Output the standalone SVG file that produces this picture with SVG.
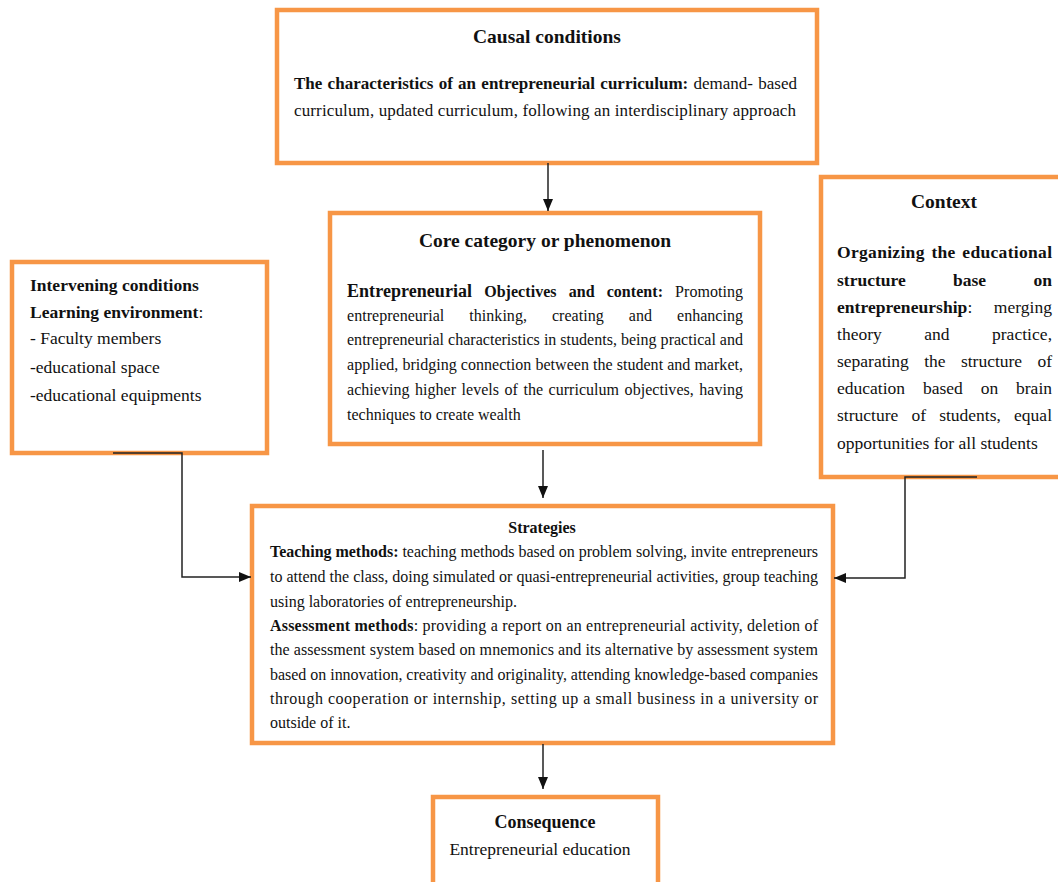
<svg xmlns="http://www.w3.org/2000/svg" width="1058" height="882" viewBox="0 0 1058 882">
<defs>
<style>
.box{fill:#fff;stroke:#F79646;stroke-width:4.5}
text{font-family:"Liberation Serif","Times New Roman",serif;fill:#111}
.t{font-weight:bold;font-size:19.5px;text-anchor:middle}
.b{font-weight:bold}
.s16{font-size:16px}
.s17{font-size:17px}
.s175{font-size:17.5px}
.con{fill:none;stroke:#222;stroke-width:1.5}
</style>
<marker id="ah" markerUnits="userSpaceOnUse" markerWidth="12" markerHeight="12" viewBox="0 0 12 10" refX="12" refY="5" orient="auto">
<path d="M0,0 L12,5 L0,10 z" fill="#111"/>
</marker>
</defs>
<rect width="1058" height="882" fill="#fff"/>

<g id="causal">
<rect class="box" x="277" y="10" width="540" height="153"/>
<text class="t" x="547" y="43">Causal conditions</text>
<text class="s17" x="294" y="89" textLength="503" lengthAdjust="spacing" word-spacing="1"><tspan class="b">The characteristics of an entrepreneurial curriculum:</tspan> demand- based</text>
<text class="s17" x="294" y="116" textLength="502" lengthAdjust="spacing">curriculum, updated curriculum, following an interdisciplinary approach</text>
</g>

<g id="core">
<rect class="box" x="330" y="213" width="430" height="231"/>
<text class="t" x="545" y="247">Core category or phenomenon</text>
<text class="s16" x="347" y="297" textLength="396" lengthAdjust="spacing" word-spacing="8"><tspan class="b" style="font-size:18px">Entrepreneurial</tspan> <tspan class="b">Objectives and content:</tspan> Promoting</text>
<text class="s16" x="347" y="321" textLength="396" lengthAdjust="spacing" word-spacing="21">entrepreneurial thinking, creating and enhancing</text>
<text class="s16" x="347" y="345" textLength="396" lengthAdjust="spacing">entrepreneurial characteristics in students, being practical and</text>
<text class="s16" x="347" y="370" textLength="396" lengthAdjust="spacing">applied, bridging connection between the student and market,</text>
<text class="s16" x="347" y="395" textLength="396" lengthAdjust="spacing" word-spacing="1.5">achieving higher levels of the curriculum objectives, having</text>
<text class="s16" x="347" y="420">techniques to create wealth</text>
</g>

<g id="context">
<rect class="box" x="821" y="177" width="250" height="300"/>
<text class="t" x="944" y="208">Context</text>
<text class="s175 b" x="837" y="258" textLength="215" lengthAdjust="spacing" word-spacing="2">Organizing the educational</text>
<text class="s175 b" x="837" y="286" textLength="215" lengthAdjust="spacing" word-spacing="43">structure base on</text>
<text class="s175" x="837" y="313" textLength="215" lengthAdjust="spacing" word-spacing="17"><tspan class="b">entrepreneurship</tspan>: merging</text>
<text class="s175" x="837" y="340" textLength="215" lengthAdjust="spacing" word-spacing="38">theory and practice,</text>
<text class="s175" x="837" y="367" textLength="215" lengthAdjust="spacing" word-spacing="11">separating the structure of</text>
<text class="s175" x="837" y="394" textLength="215" lengthAdjust="spacing" word-spacing="13.5">education based on brain</text>
<text class="s175" x="837" y="421" textLength="215" lengthAdjust="spacing" word-spacing="8.8">structure of students, equal</text>
<text class="s175" x="837" y="449">opportunities for all students</text>
</g>

<g id="intervening">
<rect class="box" x="12" y="262" width="255" height="191"/>
<text class="s175 b" x="30" y="291">Intervening conditions</text>
<text class="s175" x="30" y="318"><tspan class="b">Learning environment</tspan>:</text>
<text class="s175" x="30" y="344">- Faculty members</text>
<text class="s175" x="30" y="373">-educational space</text>
<text class="s175" x="30" y="401">-educational equipments</text>
</g>

<g id="strategies">
<rect class="box" x="252" y="506" width="581" height="237"/>
<text class="b s16" x="542" y="533" text-anchor="middle">Strategies</text>
<text class="s16" x="270" y="557" textLength="548" lengthAdjust="spacing"><tspan class="b">Teaching methods:</tspan> teaching methods based on problem solving, invite entrepreneurs</text>
<text class="s16" x="270" y="582" textLength="548" lengthAdjust="spacing">to attend the class, doing simulated or quasi-entrepreneurial activities, group teaching</text>
<text class="s16" x="270" y="607">using laboratories of entrepreneurship.</text>
<text class="s16" x="270" y="631" textLength="548" lengthAdjust="spacing"><tspan class="b">Assessment methods</tspan>: providing a report on an entrepreneurial activity, deletion of</text>
<text class="s16" x="270" y="655" textLength="548" lengthAdjust="spacing">the assessment system based on mnemonics and its alternative by assessment system</text>
<text class="s16" x="270" y="680" textLength="548" lengthAdjust="spacing">based on innovation, creativity and originality, attending knowledge-based companies</text>
<text class="s16" x="270" y="704" textLength="548" lengthAdjust="spacing">through cooperation or internship, setting up a small business in a university or</text>
<text class="s16" x="270" y="728">outside of it.</text>
</g>

<g id="consequence">
<rect class="box" x="433" y="797" width="225" height="100"/>
<text class="b" x="545" y="828" text-anchor="middle" style="font-size:18px">Consequence</text>
<text class="s175" x="540" y="855" text-anchor="middle">Entrepreneurial education</text>
</g>

<g id="connectors">
<path class="con" d="M548,163 V211" marker-end="url(#ah)"/>
<path class="con" d="M543,450 V498" marker-end="url(#ah)"/>
<path class="con" d="M543,744 V789" marker-end="url(#ah)"/>
<path class="con" d="M113,453 H182 V577 H251" marker-end="url(#ah)"/>
<path class="con" d="M977,477 H905 V578 H834" marker-end="url(#ah)"/>
</g>
</svg>
